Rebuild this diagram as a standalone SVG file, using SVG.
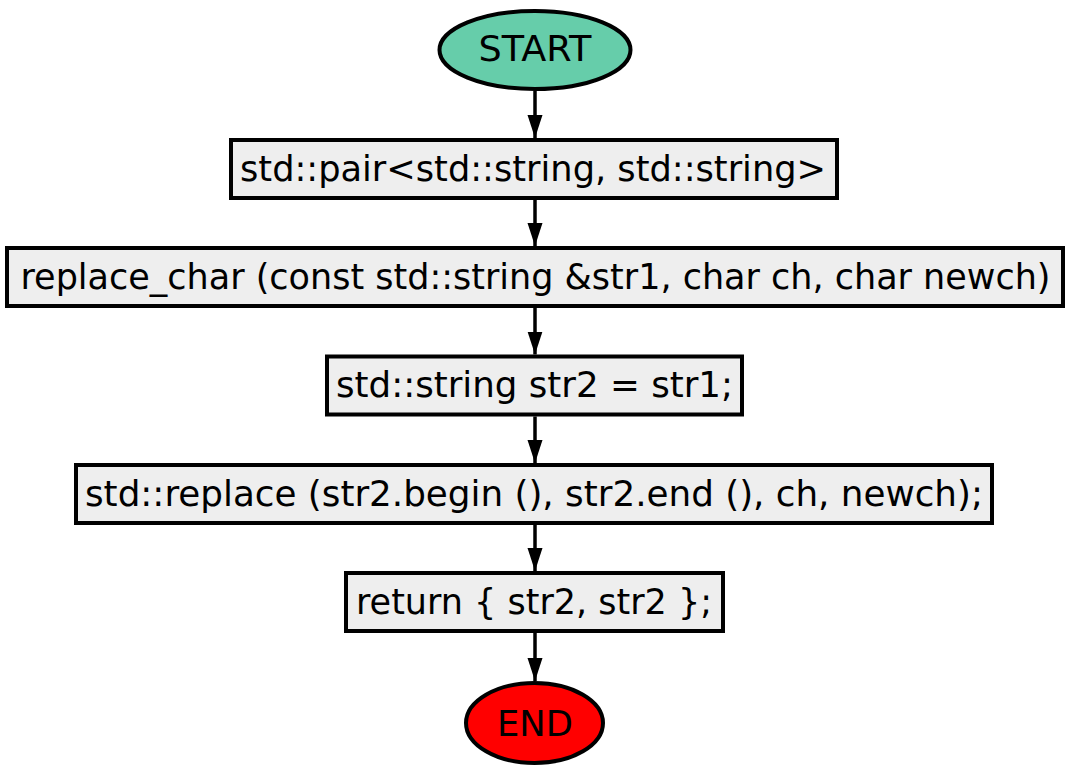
<svg xmlns="http://www.w3.org/2000/svg" width="1069" height="774" viewBox="0 0 1069 774">
  <style>
    .box { fill: #eeeeee; stroke: #000; stroke-width: 4; }
    .term { stroke: #000; stroke-width: 4; }
    .lbl { font-family: "DejaVu Sans", Verdana, sans-serif; font-size: 36px; fill: #000; text-anchor: middle; }
    .wide { font-size: 35px; }
    .edge { stroke: #000; stroke-width: 3.5; fill: none; marker-end: url(#arrow); }
  </style>
  <defs>
    <marker id="arrow" markerWidth="23" markerHeight="16" refX="23" refY="8" orient="auto" markerUnits="userSpaceOnUse">
      <path d="M0,0.5 L23,8 L0,15.5 Z" fill="#000"/>
    </marker>
  </defs>
  <rect width="1069" height="774" fill="#fff"/>

  <!-- vertical flow connectors -->
  <g id="edges">
    <line class="edge" x1="535" y1="91" x2="535" y2="138"/>
    <line class="edge" x1="535" y1="200" x2="535" y2="246"/>
    <line class="edge" x1="535" y1="308" x2="535" y2="354.5"/>
    <line class="edge" x1="535" y1="416.5" x2="535" y2="463"/>
    <line class="edge" x1="535" y1="525" x2="535" y2="571"/>
    <line class="edge" x1="535" y1="633" x2="535" y2="681"/>
  </g>

  <g id="start">
    <ellipse class="term" cx="535" cy="50" rx="95.5" ry="39" fill="#66cdaa"/>
    <text class="lbl" x="535" y="61" textLength="113" lengthAdjust="spacingAndGlyphs">START</text>
  </g>
  <g id="n1">
    <rect class="box" x="231" y="140" width="606" height="58"/>
    <text class="lbl" x="533" y="180.5" textLength="586" lengthAdjust="spacingAndGlyphs">std::pair&lt;std::string, std::string&gt;</text>
  </g>
  <g id="n2">
    <rect class="box" x="7" y="248" width="1056" height="58"/>
    <text class="lbl wide" x="535.5" y="288.5" textLength="1030" lengthAdjust="spacingAndGlyphs">replace_char (const std::string &amp;str1, char ch, char newch)</text>
  </g>
  <g id="n3">
    <rect class="box" x="327" y="356.5" width="415" height="58"/>
    <text class="lbl" x="534.5" y="397" textLength="397" lengthAdjust="spacingAndGlyphs">std::string str2 = str1;</text>
  </g>
  <g id="n4">
    <rect class="box" x="76" y="465" width="916" height="58"/>
    <text class="lbl" x="534" y="505.5" textLength="898" lengthAdjust="spacingAndGlyphs">std::replace (str2.begin (), str2.end (), ch, newch);</text>
  </g>
  <g id="n5">
    <rect class="box" x="346" y="573" width="377" height="58"/>
    <text class="lbl" x="534" y="613.5" textLength="356" lengthAdjust="spacingAndGlyphs">return { str2, str2 };</text>
  </g>
  <g id="end">
    <ellipse class="term" cx="534.5" cy="723" rx="68.5" ry="40" fill="#ff0000"/>
    <text class="lbl" x="535" y="736" textLength="76" lengthAdjust="spacingAndGlyphs">END</text>
  </g>
</svg>
